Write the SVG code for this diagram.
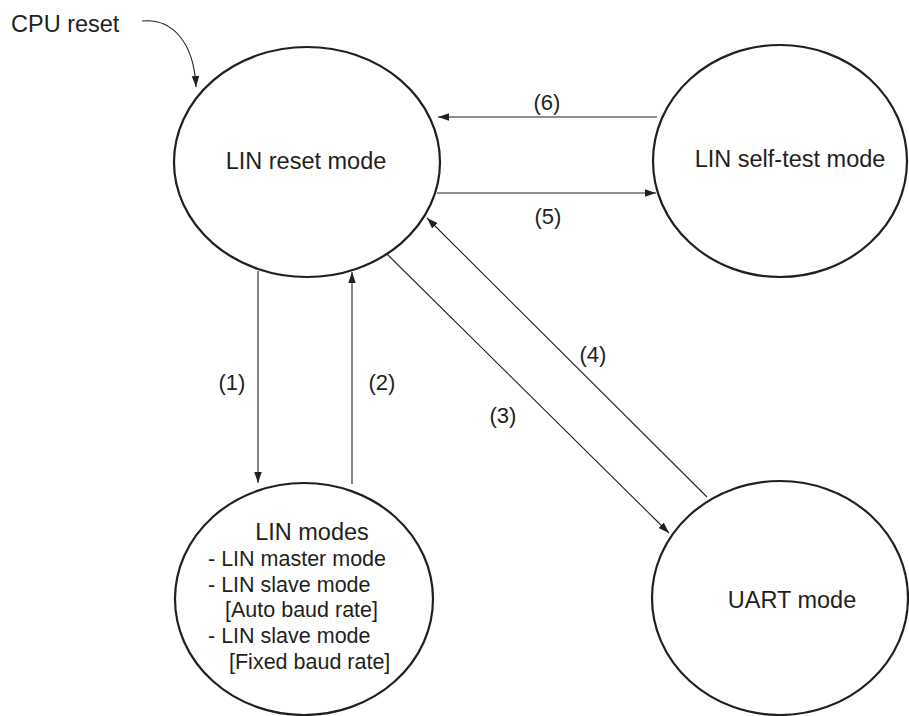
<svg xmlns="http://www.w3.org/2000/svg" width="909" height="716" viewBox="0 0 909 716">
<style>
.node{fill:none;stroke:#231f20;stroke-width:2.2}
.t{font-family:"Liberation Sans",Arial,sans-serif;font-size:23.5px;fill:#231f20}
.s{font-family:"Liberation Sans",Arial,sans-serif;font-size:21.5px;fill:#231f20}
.lbl{font-family:"Liberation Sans",Arial,sans-serif;font-size:22px;fill:#231f20;text-anchor:middle}
.c{fill:none;stroke:#231f20;stroke-width:1.1}
</style>
<defs>
<marker id="ah" markerUnits="userSpaceOnUse" markerWidth="12" markerHeight="8" refX="11" refY="3.75" orient="auto">
<path d="M0,0 L11,3.75 L0,7.5 z" fill="#231f20"/>
</marker>
</defs>
<rect width="909" height="716" fill="#ffffff"/>
<g id="reset">
<ellipse class="node" cx="307" cy="162" rx="133" ry="115"/>
<text class="t" x="306" y="169" text-anchor="middle">LIN reset mode</text>
</g>
<g id="selftest">
<ellipse class="node" cx="780" cy="161" rx="127" ry="116"/>
<text class="t" x="790" y="167" text-anchor="middle">LIN self-test mode</text>
</g>
<g id="linmodes">
<ellipse class="node" cx="304" cy="599" rx="129" ry="116"/>
<text class="t" x="312" y="540" text-anchor="middle">LIN modes</text>
<text class="s" x="208" y="566">- LIN master mode</text>
<text class="s" x="208" y="592">- LIN slave mode</text>
<text class="s" x="225" y="617">[Auto baud rate]</text>
<text class="s" x="208" y="643">- LIN slave mode</text>
<text class="s" x="229" y="669">[Fixed baud rate]</text>
</g>
<g id="uart">
<ellipse class="node" cx="780" cy="598" rx="128" ry="117"/>
<text class="t" x="792" y="608" text-anchor="middle">UART mode</text>
</g>
<g id="cpureset">
<text class="t" x="11" y="32">CPU reset</text>
</g>
<g id="connectors">
<path class="c" d="M142,21 C172,18 194,42 196,87" marker-end="url(#ah)"/>
<line class="c" x1="657" y1="117" x2="438" y2="117" marker-end="url(#ah)"/>
<line class="c" x1="437" y1="193" x2="656" y2="193" marker-end="url(#ah)"/>
<line class="c" x1="258" y1="271" x2="258" y2="483" marker-end="url(#ah)"/>
<line class="c" x1="352" y1="484" x2="352" y2="272" marker-end="url(#ah)"/>
<line class="c" x1="387" y1="254" x2="669" y2="533" marker-end="url(#ah)"/>
<line class="c" x1="707" y1="497" x2="427" y2="218" marker-end="url(#ah)"/>
<text class="lbl" x="547" y="110">(6)</text>
<text class="lbl" x="548" y="224">(5)</text>
<text class="lbl" x="232" y="390">(1)</text>
<text class="lbl" x="382" y="390">(2)</text>
<text class="lbl" x="503" y="423">(3)</text>
<text class="lbl" x="593" y="362">(4)</text>
</g>
</svg>
